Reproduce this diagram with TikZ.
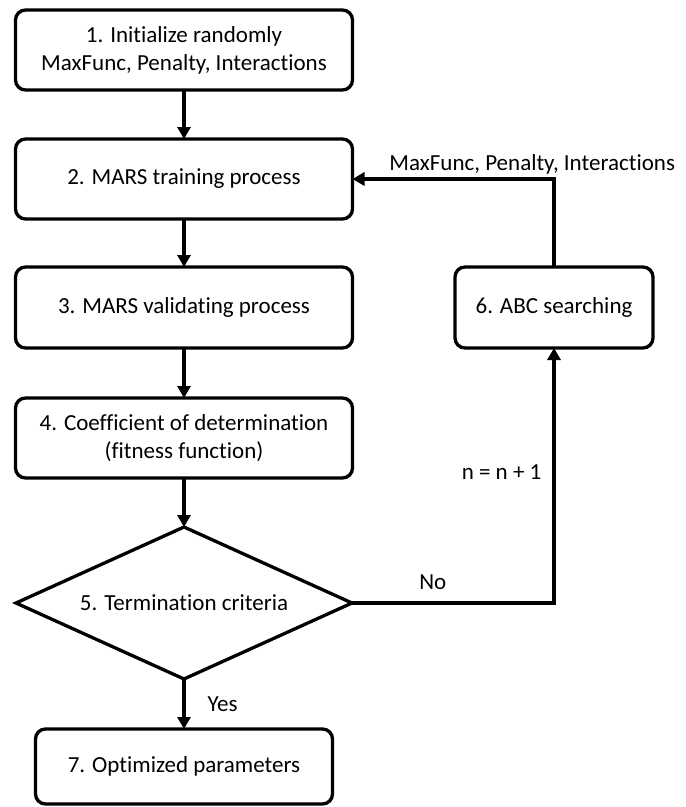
\documentclass[tikz,border=0pt]{standalone}
\usepackage{fontspec}
\setmainfont{Carlito}[Ligatures=NoCommon]
\usetikzlibrary{positioning,shapes.geometric,arrows.meta}

\tikzset{
  stage/.style={draw, line width=3.3pt, rounded corners=10pt, align=center,
    inner sep=0pt, outer sep=0pt, minimum width=337pt, minimum height=80pt},
  check/.style={draw, diamond, line width=3.3pt, aspect=2.2, inner sep=0pt,
    outer sep=0pt, minimum width=336pt, minimum height=152pt},
  note/.style={inner sep=0pt},
  flow/.style={line width=3.3pt, -{Triangle[length=12pt,width=13pt]}}
}

\begin{document}
\begin{tikzpicture}[x=1pt, y=-1pt, font=\fontsize{23}{28}\selectfont]
   \useasboundingbox (0,0) rectangle (686,807);
   \node (init) [stage] at (184,50) {1. Initialize randomly\\MaxFunc, Penalty, Interactions};
   \node (train) [stage, below=49pt of init] {2. MARS training process};
   \node (valid) [stage, minimum height=81pt, below=48pt of train] {3. MARS validating process};
   \node (coef) [stage, below=50pt of valid] {4. Coefficient of determination\\(fitness function)};
   \node (term) [check, below=49pt of coef] {5. Termination criteria};
   \node (optim) [stage, minimum width=297pt, minimum height=75pt, below=50pt of term] {7. Optimized parameters};
   \node (abc) [stage, minimum width=198pt, minimum height=81pt] at (554,307.5) {6. ABC searching};
   \path[flow]
     (init) edge (train)
     (train) edge (valid)
     (valid) edge (coef)
     (coef) edge (term)
     (term) edge node [note, right=22pt] {Yes} (optim);
   \draw[flow] (term.east) -| node [note, pos=0.2, above=12pt] {No}
     node [note, pos=0.757, left=11pt] {n = n + 1} (abc.south);
   \draw[flow] (abc.north) |- node [note, pos=0.554, above=3pt] {MaxFunc, Penalty, Interactions} (train.east);
\end{tikzpicture}
\end{document}
